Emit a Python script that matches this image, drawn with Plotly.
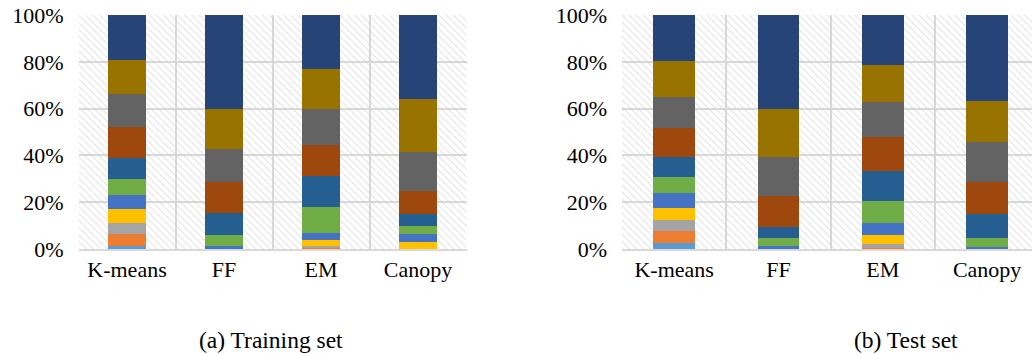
import plotly.graph_objects as go

# Clustering methods on the category axis
methods = ["K-means", "FF", "EM", "Canopy"]

# Share (%) of each cluster, bottom segment first, per method
train_kmeans = [1.3, 5.0, 5.0, 5.7, 5.9, 7.1, 9.0, 13.1, 14.0, 14.7, 19.2]
train_ff = [0, 0, 0, 0, 1.4, 4.7, 9.1, 13.3, 14.1, 17.1, 40.3]
train_em = [0.2, 0.3, 0.9, 2.4, 3.0, 11.0, 13.2, 13.6, 15.4, 17.1, 22.9]
train_canopy = [0, 0, 0, 3.0, 3.4, 3.4, 5.2, 9.9, 16.6, 22.6, 35.9]

test_kmeans = [2.5, 5.1, 4.9, 5.0, 6.6, 6.7, 8.5, 12.3, 13.4, 15.3, 19.7]
test_ff = [0, 0, 0, 0, 1.4, 3.1, 5.0, 13.1, 16.7, 20.4, 40.3]
test_em = [0, 0.6, 1.4, 4.0, 5.0, 9.5, 12.8, 14.6, 14.9, 15.8, 21.4]
test_canopy = [0, 0, 0, 0, 0.9, 3.7, 10.4, 13.6, 17.1, 17.7, 36.6]

cluster_names = [f"C{i}" for i in range(1, 12)]
colors = ["#5B9BD5", "#ED7D31", "#A5A5A5", "#FFC000", "#4472C4", "#70AD47",
          "#255E91", "#9E480E", "#636363", "#997300", "#264478"]
y_ticks = [0, 20, 40, 60, 80, 100]
y_labels = [f"{v}%" for v in y_ticks]

FONT = "Liberation Serif, Times New Roman, serif"
GRID = "#d9d9d9"

fig = go.Figure()


def add_panel(columns, xa, ya_bg, ya_data):
    # hatched plot-area backdrop
    fig.add_trace(go.Bar(
        x=methods, y=[100] * len(methods), width=1, xaxis=xa, yaxis=ya_bg,
        marker=dict(color="rgba(0,0,0,0)", line=dict(width=0),
                    pattern=dict(shape="\\", fgcolor="#c9c9c9", size=5,
                                 solidity=0.22)),
        hoverinfo="skip", showlegend=False))
    # stacked cluster segments
    for i, name in enumerate(cluster_names):
        fig.add_trace(go.Bar(
            x=methods, y=[col[i] for col in columns], name=name,
            xaxis=xa, yaxis=ya_data, marker=dict(color=colors[i], line=dict(width=0)),
            showlegend=False))


add_panel([train_kmeans, train_ff, train_em, train_canopy], "x", "y", "y3")
add_panel([test_kmeans, test_ff, test_em, test_canopy], "x2", "y2", "y4")

ydom = [105 / 354, 339 / 354]
xcommon = dict(type="category", categoryorder="array", categoryarray=methods,
               tickson="boundaries", showgrid=True, gridcolor=GRID, gridwidth=1.5,
               ticks="", showline=True, linecolor=GRID, linewidth=1.5,
               automargin=False,
               tickfont=dict(family=FONT, size=22, color="#000"),
               ticklabelstandoff=0)
ycommon = dict(range=[0, 100], tickmode="array", tickvals=y_ticks, ticktext=y_labels,
               showgrid=True, gridcolor=GRID, gridwidth=1.5, zeroline=False,
               automargin=False,
               ticks="", tickfont=dict(family=FONT, size=22, color="#000"),
               ticklabelstandoff=14, domain=ydom)
yover = dict(range=[0, 100], visible=False, showgrid=False, zeroline=False,
             automargin=False)

fig.update_layout(
    width=1032, height=354,
    margin=dict(l=0, r=0, t=0, b=0, autoexpand=False),
    paper_bgcolor="white", plot_bgcolor="white",
    barmode="stack", bargap=0.6,
    xaxis=dict(domain=[78.5 / 1032, 466.5 / 1032], range=[-0.5, 3.5], anchor="y", **xcommon),
    xaxis2=dict(domain=[622 / 1032, 1.0], range=[-0.5, 3.43], anchor="y2", **xcommon),
    yaxis=dict(anchor="x", **ycommon),
    yaxis2=dict(anchor="x2", **ycommon),
    yaxis3=dict(overlaying="y", anchor="x", domain=ydom, **yover),
    yaxis4=dict(overlaying="y2", anchor="x2", domain=ydom, **yover),
    annotations=[
        dict(text="(a) Training set", x=271 / 1032, y=14 / 354, xref="paper", yref="paper",
             xanchor="center", yanchor="middle", showarrow=False,
             font=dict(family=FONT, size=23.5, color="#000")),
        dict(text="(b) Test set", x=906 / 1032, y=14 / 354, xref="paper", yref="paper",
             xanchor="center", yanchor="middle", showarrow=False,
             font=dict(family=FONT, size=23.5, color="#000")),
    ],
)

fig.write_html("out.html")
